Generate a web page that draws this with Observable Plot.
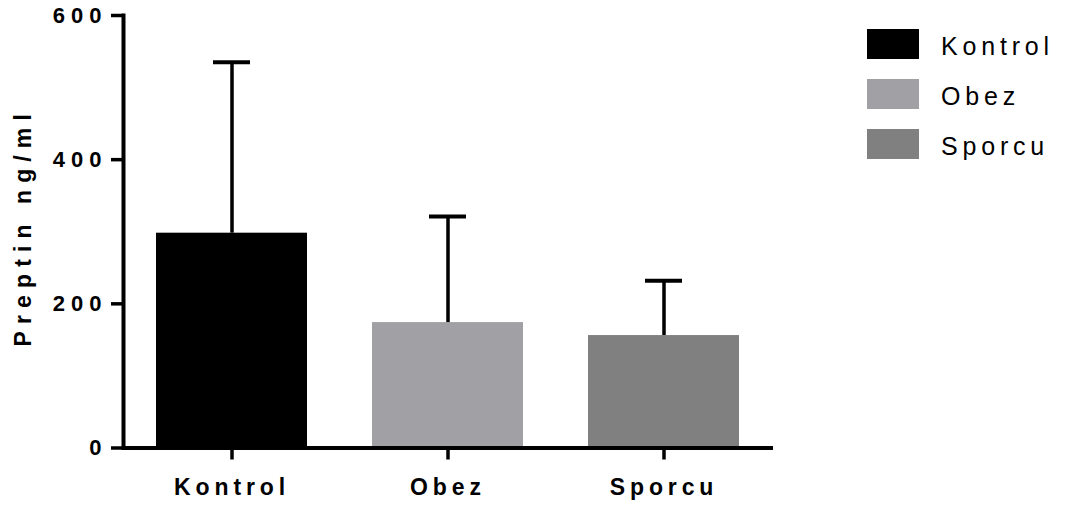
<!DOCTYPE html>
<html>
<head>
<meta charset="utf-8">
<script src="https://cdn.jsdelivr.net/npm/d3@7"></script>
<script src="https://cdn.jsdelivr.net/npm/@observablehq/plot@0.6"></script>
<style>
  html, body { margin: 0; padding: 0; background: #fff; }
  #wrap { position: relative; width: 1065px; height: 510px; font-family: "Liberation Sans", Arial, sans-serif; }
  #legend { position: absolute; left: 867px; top: 29px; }
  .row { display: flex; align-items: center; height: 30px; margin-bottom: 20px; }
  .sw { width: 52px; height: 30px; margin-right: 22px; flex: none; }
  .lab { font-size: 25px; letter-spacing: 4.8px; color: #000; position: relative; top: 2px; white-space: nowrap; }
</style>
</head>
<body>
<div id="wrap"><div id="legend"></div></div>
<script>
const categories = ["Kontrol", "Obez", "Sporcu"];
const means = [298, 174, 156];
const sds = [237, 147, 76];
const colors = ["#000000", "#a1a0a5", "#808080"];
const yTicks = [0, 200, 400, 600];
const yTitle = "Preptin ng/ml";

const data = categories.map((c, i) => ({group: c, mean: means[i], upper: means[i] + sds[i]}));

const chart = Plot.plot({
  width: 1065,
  height: 510,
  marginLeft: 123,
  marginRight: 292,
  marginTop: 15,
  marginBottom: 62.5,
  style: {fontFamily: "'Liberation Sans', Arial, sans-serif", color: "#000", background: "#fff", overflow: "visible"},
  x: {domain: categories, paddingInner: 0.3, paddingOuter: 0.15, label: null},
  y: {domain: [0, 600], label: null},
  color: {domain: categories, range: colors},
  marks: [
    Plot.barY(data, {x: "group", y: "mean", fill: "group"}),
    Plot.ruleX(data, {x: "group", y1: "mean", y2: "upper", stroke: "#000", strokeWidth: 3.5}),
    Plot.tickY(data, {x: "group", y: "upper", stroke: "#000", strokeWidth: 4, insetLeft: 57, insetRight: 57}),
    Plot.ruleY([0], {stroke: "#000", strokeWidth: 4}),
    Plot.frame({anchor: "left", stroke: "#000", strokeWidth: 4}),
    Plot.axisY({ticks: yTicks, label: null, tickSize: 12, tickPadding: 4, strokeWidth: 3.5, tickFormat: d => String(d)}),
    Plot.axisX({label: null, tickSize: 12, tickPadding: 18.5, strokeWidth: 3.5}),
    Plot.text([yTitle], {frameAnchor: "left", textAnchor: "middle", text: d => d, rotate: -90, dx: -100, dy: -5, fill: "#000"})
  ]
});

function styleTexts(sel, size, ls) {
  chart.querySelectorAll(sel).forEach(t => {
    t.style.fontSize = size + "px";
    t.style.fontWeight = "bold";
    t.style.letterSpacing = ls + "px";
    t.style.fontFamily = "'Liberation Sans', Arial, sans-serif";
  });
}
styleTexts('g[aria-label="y-axis tick label"] text', 22, 6);
styleTexts('g[aria-label="x-axis tick label"] text', 23, 4.9);
styleTexts('g[aria-label="text"] text', 23, 7.1);

const wrap = document.getElementById("wrap");
wrap.insertBefore(chart, wrap.firstChild);

const legend = d3.select("#legend");
categories.forEach((c, i) => {
  const row = legend.append("div").attr("class", "row");
  row.append("div").attr("class", "sw").style("background", colors[i]);
  row.append("div").attr("class", "lab").text(c);
});
</script>
</body>
</html>
